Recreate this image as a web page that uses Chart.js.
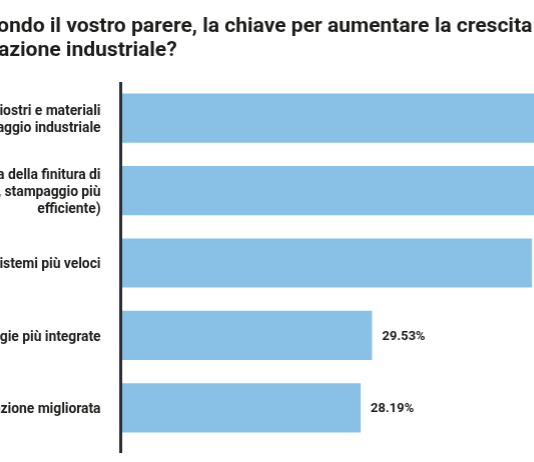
<!DOCTYPE html>
<html>
<head>
<meta charset="utf-8">
<script src="https://cdn.jsdelivr.net/npm/chart.js@4.4.1/dist/chart.umd.min.js"></script>
<style>
  html, body { margin: 0; padding: 0; background: #fff; overflow: hidden; }
  #wrap { position: absolute; top: 0; height: 462px; }
</style>
</head>
<body>
<div id="wrap"><canvas id="out"></canvas></div>
<script>
const titleLines = [
  "D. Secondo il vostro parere, la chiave per aumentare la crescita dell'",
  "automazione industriale?"
];
const categories = [
  ["Nuovi inchiostri e materiali", "per lo stampaggio industriale"],
  ["Maggiore efficienza della finitura di", "stampa (taglio, stampaggio più", "efficiente)"],
  "Macchine e sistemi più veloci",
  "Tecnologie più integrate",
  "Automazione migliorata"
];
const shares = [54.36, 51.68, 48.32, 29.53, 28.19];
const xMax = 70;

const titleSize = 21.05;
const textColor = "#1d1d1b";
const axisColor = "#2c2e36";
const barColor = "#89c1e6";

// the picture is a crop of a wider chart: start of title and labels are cut off on the left
const measure = document.createElement("canvas").getContext("2d");
measure.font = "bold " + titleSize + "px Roboto";
const cropLeft = Math.round(Math.max(measure.measureText("D. Sec").width, measure.measureText("autom").width) + 2);

const wrap = document.getElementById("wrap");
wrap.style.left = -cropLeft + "px";
wrap.style.width = (cropLeft + 120.5 + xMax * 8.5 + 60) + "px";

const valueLabels = {
  id: "valueLabels",
  afterDatasetsDraw(chart) {
    const ctx = chart.ctx;
    const meta = chart.getDatasetMeta(0);
    ctx.save();
    ctx.font = "bold 13px Roboto";
    ctx.fillStyle = textColor;
    ctx.textBaseline = "middle";
    meta.data.forEach((bar, i) => {
      ctx.fillText(shares[i].toFixed(2) + "%", bar.x + 10, bar.y + 1);
    });
    ctx.restore();
  }
};

new Chart(document.getElementById("out"), {
  type: "bar",
  data: {
    labels: categories,
    datasets: [{
      data: shares,
      backgroundColor: barColor,
      borderWidth: 0,
      barPercentage: 0.68,
      categoryPercentage: 1
    }]
  },
  options: {
    indexAxis: "y",
    responsive: true,
    maintainAspectRatio: false,
    animation: false,
    layout: { padding: { left: 0, right: 60, top: 0, bottom: 9 } },
    plugins: {
      legend: { display: false },
      tooltip: { enabled: false },
      title: {
        display: true,
        text: titleLines,
        align: "start",
        color: textColor,
        font: { family: "Roboto", size: titleSize, weight: "bold", lineHeight: 1.14 },
        padding: { top: 15, bottom: 19 }
      }
    },
    scales: {
      x: {
        min: 0,
        max: xMax,
        z: 1,
        ticks: { display: false },
        border: { display: false },
        grid: {
          lineWidth: 3,
          tickLength: 9,
          color: c => c.tick && c.tick.value === 0 ? axisColor : "rgba(0,0,0,0)",
          tickColor: c => c.tick && c.tick.value === 0 ? axisColor : "rgba(0,0,0,0)"
        }
      },
      y: {
        // gap between labels and axis comes from tickLength, so the label padding stays small
        grid: { display: false, drawTicks: true, tickLength: 20 },
        border: { display: false },
        afterFit(scale) { scale.width = 120.5 + cropLeft; },
        ticks: {
          padding: 0,
          labelOffset: 2,
          color: textColor,
          font: { family: "Roboto", size: 13.8, weight: "bold", lineHeight: 1.25 }
        }
      }
    }
  },
  plugins: [valueLabels]
});
</script>
</body>
</html>
